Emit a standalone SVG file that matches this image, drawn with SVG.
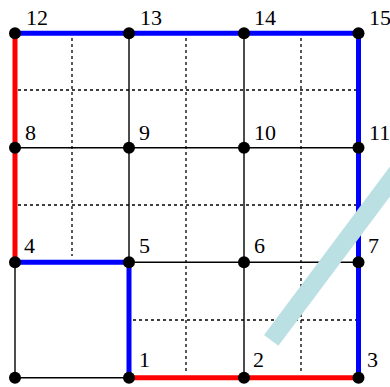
<svg xmlns="http://www.w3.org/2000/svg" width="390" height="387" viewBox="0 0 390 387">
<style>
.dot{stroke:#000;stroke-width:1.3;stroke-dasharray:3 3;fill:none}
.e{stroke:#000;stroke-width:1.4;fill:none}
.b{stroke:#0000ff;stroke-width:5;fill:none}
.r{stroke:#ff0000;stroke-width:5;fill:none}
.n{fill:#000}
text{font-family:"Liberation Serif","Times New Roman",serif;font-size:22px;fill:#000}
</style>
<rect width="390" height="387" fill="#fff"/>
<g id="grid-dotted">
<line class="dot" x1="72" y1="38" x2="72" y2="256"/>
<line class="dot" x1="186" y1="38" x2="186" y2="374"/>
<line class="dot" x1="301" y1="38" x2="301" y2="374"/>
<line class="dot" x1="18" y1="90" x2="356" y2="90"/>
<line class="dot" x1="18" y1="205" x2="356" y2="205"/>
<line class="dot" x1="133" y1="320" x2="356" y2="320"/>
</g>
<g id="connectors">
<line class="e" x1="15" y1="147.7" x2="358.5" y2="147.7"/>
<line class="e" x1="129" y1="262.3" x2="358.5" y2="262.3"/>
<line class="e" x1="15" y1="262.3" x2="15" y2="377.7"/>
<line class="e" x1="15" y1="377.7" x2="129" y2="377.7"/>
<line class="e" x1="129" y1="33.3" x2="129" y2="262.3"/>
<line class="e" x1="244" y1="33.3" x2="244" y2="377.7"/>
<polyline class="r" points="15,33.3 15,262.3"/>
<polyline class="r" points="129,377.7 358.5,377.7"/>
<polyline class="b" points="15,33.3 358.5,33.3 358.5,377.7"/>
<polyline class="b" points="15,262.3 129,262.3 129,377.7"/>
</g>
<line id="bar" x1="271.2" y1="340.4" x2="421" y2="140" stroke="#bbe0e3" stroke-width="18"/>
<g id="n0"><circle class="n" cx="15" cy="377.7" r="6"/></g>
<g id="n1"><circle class="n" cx="129" cy="377.7" r="6"/><text x="139" y="366.7">1</text></g>
<g id="n2"><circle class="n" cx="244" cy="377.7" r="6"/><text x="253" y="366.7">2</text></g>
<g id="n3"><circle class="n" cx="358.5" cy="377.7" r="6"/><text x="367" y="366.7">3</text></g>
<g id="n4"><circle class="n" cx="15" cy="262.3" r="6"/><text x="24" y="253.3">4</text></g>
<g id="n5"><circle class="n" cx="129" cy="262.3" r="6"/><text x="139" y="253.3">5</text></g>
<g id="n6"><circle class="n" cx="244" cy="262.3" r="6"/><text x="254" y="253.3">6</text></g>
<g id="n7"><circle class="n" cx="358.5" cy="262.3" r="6"/><text x="368" y="253.3">7</text></g>
<g id="n8"><circle class="n" cx="15" cy="147.7" r="6"/><text x="25" y="140">8</text></g>
<g id="n9"><circle class="n" cx="129" cy="147.7" r="6"/><text x="139" y="140">9</text></g>
<g id="n10"><circle class="n" cx="244" cy="147.7" r="6"/><text x="254" y="140">10</text></g>
<g id="n11"><circle class="n" cx="358.5" cy="147.7" r="6"/><text x="369" y="140">11</text></g>
<g id="n12"><circle class="n" cx="15" cy="33.3" r="6"/><text x="26" y="25">12</text></g>
<g id="n13"><circle class="n" cx="129" cy="33.3" r="6"/><text x="140" y="25">13</text></g>
<g id="n14"><circle class="n" cx="244" cy="33.3" r="6"/><text x="254" y="25">14</text></g>
<g id="n15"><circle class="n" cx="358.5" cy="33.3" r="6"/><text x="369" y="25">15</text></g>
</svg>
